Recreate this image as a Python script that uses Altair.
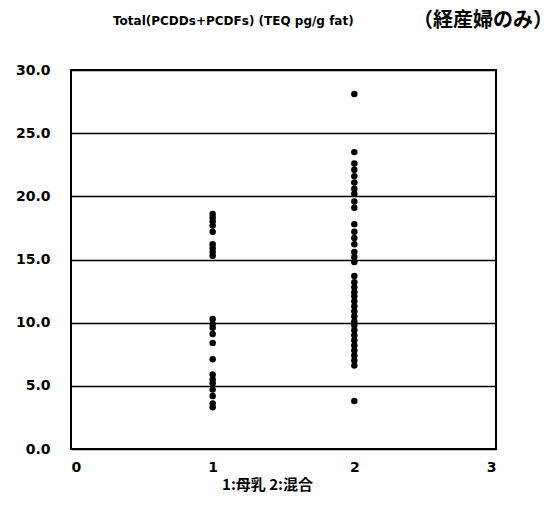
import altair as alt
import pandas as pd

group1 = [18.6, 18.3, 18.0, 17.7, 17.2, 16.2, 15.9, 15.6, 15.3,
          10.3, 9.9, 9.6, 9.1, 8.4, 7.1, 5.9, 5.5, 5.2, 4.7, 4.2, 3.6, 3.3]
group2 = [28.1, 23.5, 22.6, 22.1, 21.6, 21.1, 20.6, 20.2, 19.6, 19.1,
          17.8, 17.2, 16.7, 16.2, 15.6, 15.2, 14.8,
          13.7, 13.2, 12.8, 12.4, 12.1, 11.7, 11.3, 10.9, 10.5, 10.1,
          9.8, 9.4, 9.0, 8.6, 8.2, 7.8, 7.4, 7.0, 6.6, 3.8]

x_ticks = [0, 1, 2, 3]
y_ticks = [0, 5, 10, 15, 20, 25, 30]
title_latin = "Total(PCDDs+PCDFs) (TEQ pg/g fat)"
title_cjk = "（経産婦のみ）"
x_title = "1:母乳  2:混合"

df = pd.DataFrame({
    "group": [1] * len(group1) + [2] * len(group2),
    "value": group1 + group2,
})

W, H = 425, 379
font = "DejaVu Sans"
cjk = "Noto Sans CJK JP"

points = alt.Chart(df).mark_circle(color="black", opacity=1, size=42).encode(
    x=alt.X("group:Q",
            scale=alt.Scale(domain=[0, 3], nice=False),
            axis=alt.Axis(values=x_ticks, format="d", grid=False, ticks=False,
                          domain=False, labelFont=font, labelFontWeight="bold",
                          labelFontSize=14, labelColor="black", labelPadding=11,
                          title=x_title, titleFont=cjk,
                          titleFontWeight="bold", titleFontSize=15,
                          titleColor="black", titleX=196, titleY=28)),
    y=alt.Y("value:Q",
            scale=alt.Scale(domain=[0, 30], nice=False),
            axis=alt.Axis(values=y_ticks, format=".1f", grid=True,
                          gridColor="black", gridWidth=1.5, gridOpacity=1,
                          ticks=False, domain=False, labelFont=font,
                          labelFontWeight="bold", labelFontSize=14,
                          labelColor="black", labelPadding=21, title=None)),
)

t1 = alt.Chart(pd.DataFrame({"t": [title_latin]})).mark_text(
    font=font, fontWeight="bold", fontSize=12, align="left",
    baseline="middle", color="black").encode(
    text="t:N", x=alt.value(42), y=alt.value(-49))

t2 = alt.Chart(pd.DataFrame({"t": [title_cjk]})).mark_text(
    font=cjk, fontWeight="bold", fontSize=20, align="left",
    baseline="middle", color="black").encode(
    text="t:N", x=alt.value(342), y=alt.value(-49))

chart = alt.layer(points, t1, t2).properties(
    width=W, height=H,
    autosize=alt.AutoSizeParams(type="none"),
    padding={"left": 71, "top": 70, "right": 559 - 71 - W, "bottom": 512 - 70 - H},
    background="white",
).configure_view(stroke="black", strokeWidth=2)

chart.save("out.html", embed_options={"renderer": "svg", "actions": False})
